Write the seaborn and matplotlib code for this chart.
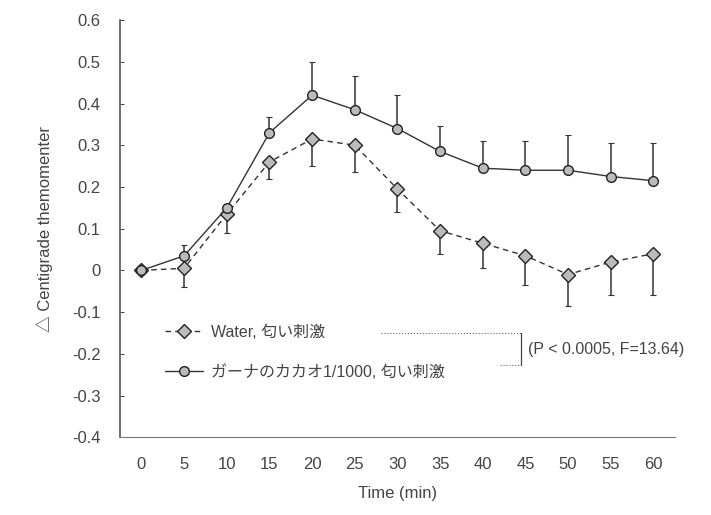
import numpy as np
import pandas as pd
import matplotlib
matplotlib.use('Agg')
import matplotlib.pyplot as plt
import seaborn as sns

# values
times = [0, 5, 10, 15, 20, 25, 30, 35, 40, 45, 50, 55, 60]
water = [0.0, 0.005, 0.135, 0.26, 0.315, 0.30, 0.195, 0.095, 0.065, 0.035, -0.01, 0.02, 0.04]
water_err = [0.0, 0.045, 0.045, 0.04, 0.065, 0.065, 0.055, 0.055, 0.06, 0.07, 0.075, 0.08, 0.10]
cacao = [0.0, 0.035, 0.15, 0.33, 0.42, 0.385, 0.34, 0.285, 0.245, 0.24, 0.24, 0.225, 0.215]
cacao_err = [0.0, 0.025, 0.0, 0.037, 0.08, 0.08, 0.08, 0.06, 0.065, 0.07, 0.085, 0.08, 0.09]
labels = ['Water, 匂い刺激', 'ガーナのカカオ1/1000, 匂い刺激']
stat_text = '(P < 0.0005, F=13.64)'

sns.set_theme(style='white')
plt.rcParams['font.family'] = ['Liberation Sans', 'Noto Sans CJK JP', 'DejaVu Sans']
plt.rcParams['axes.unicode_minus'] = False

df = pd.DataFrame({
    'time': times * 2,
    'value': water + cacao,
    'group': [labels[0]] * len(times) + [labels[1]] * len(times),
})

fig = plt.figure(figsize=(7.11, 5.15), dpi=100)
ax = fig.add_axes([0.169, 0.151, 0.780, 0.810])

txt = '#444444'
line_c = '#333333'

# error bars: water goes down, cacao goes up
ax.errorbar(times, water, yerr=[water_err, [0] * len(times)], fmt='none',
            ecolor=line_c, elinewidth=1.1, capsize=2.5, capthick=0.8, zorder=2)
ax.errorbar(times, cacao, yerr=[[0] * len(times), cacao_err], fmt='none',
            ecolor=line_c, elinewidth=1.1, capsize=2.5, capthick=0.8, zorder=2)

sns.lineplot(data=df, x='time', y='value', hue='group', style='group',
             palette=[line_c, line_c], dashes=[(4, 3), ''], markers=['D', 'o'],
             markersize=7, markerfacecolor='#bbbbbb', markeredgecolor='#222222',
             markeredgewidth=1.0, linewidth=1.0, ax=ax, zorder=3)

ax.set_xlim(-2.5, 62.5)
ax.set_ylim(-0.4, 0.6)
ax.set_xticks(times)
ax.set_xticklabels([str(t) for t in times])
ax.set_xticks(np.arange(-2.5, 63, 5), minor=True)
ax.set_yticks(np.round(np.arange(-0.4, 0.61, 0.1), 1))
ax.set_yticklabels(['0' if abs(v) < 1e-9 else f'{v:.1f}' for v in np.arange(-0.4, 0.61, 0.1)])
ax.tick_params(axis='x', which='major', length=0, pad=14, labelsize=12, colors=txt)
ax.tick_params(axis='x', which='minor', direction='in', length=4, width=0.7, color='#555555')
ax.tick_params(axis='y', direction='in', length=3, width=0.7, pad=14, labelsize=12,
               colors=txt, left=True)

sns.despine(ax=ax)
ax.spines['left'].set_color('#555555')
ax.spines['left'].set_linewidth(1.2)
ax.spines['bottom'].set_color('#777777')
ax.spines['bottom'].set_linewidth(0.8)

ax.set_xlabel('Time (min)', fontsize=12, color=txt, labelpad=10)
ax.set_ylabel('△ Centigrade themomenter', fontsize=12, color=txt, labelpad=14)

leg = ax.legend(loc='upper left', bbox_to_anchor=(0.055, 0.305), frameon=False,
                fontsize=11.5, handlelength=2.4, labelspacing=1.5, handletextpad=0.5)
for t in leg.get_texts():
    t.set_color(txt)

# bracket linking the two legend entries to the statistics
ax.plot([0.47, 0.722], [0.25, 0.25], transform=ax.transAxes, color='#666666',
        lw=0.8, ls=':', clip_on=False)
ax.plot([0.685, 0.722], [0.172, 0.172], transform=ax.transAxes, color='#666666',
        lw=0.8, ls=':', clip_on=False)
ax.plot([0.722, 0.722], [0.25, 0.172], transform=ax.transAxes, color='#444444',
        lw=0.9, clip_on=False)
ax.text(0.735, 0.211, stat_text, transform=ax.transAxes, fontsize=11.5,
        color=txt, va='center', ha='left', clip_on=False)

fig.savefig('out.png', dpi=100)
